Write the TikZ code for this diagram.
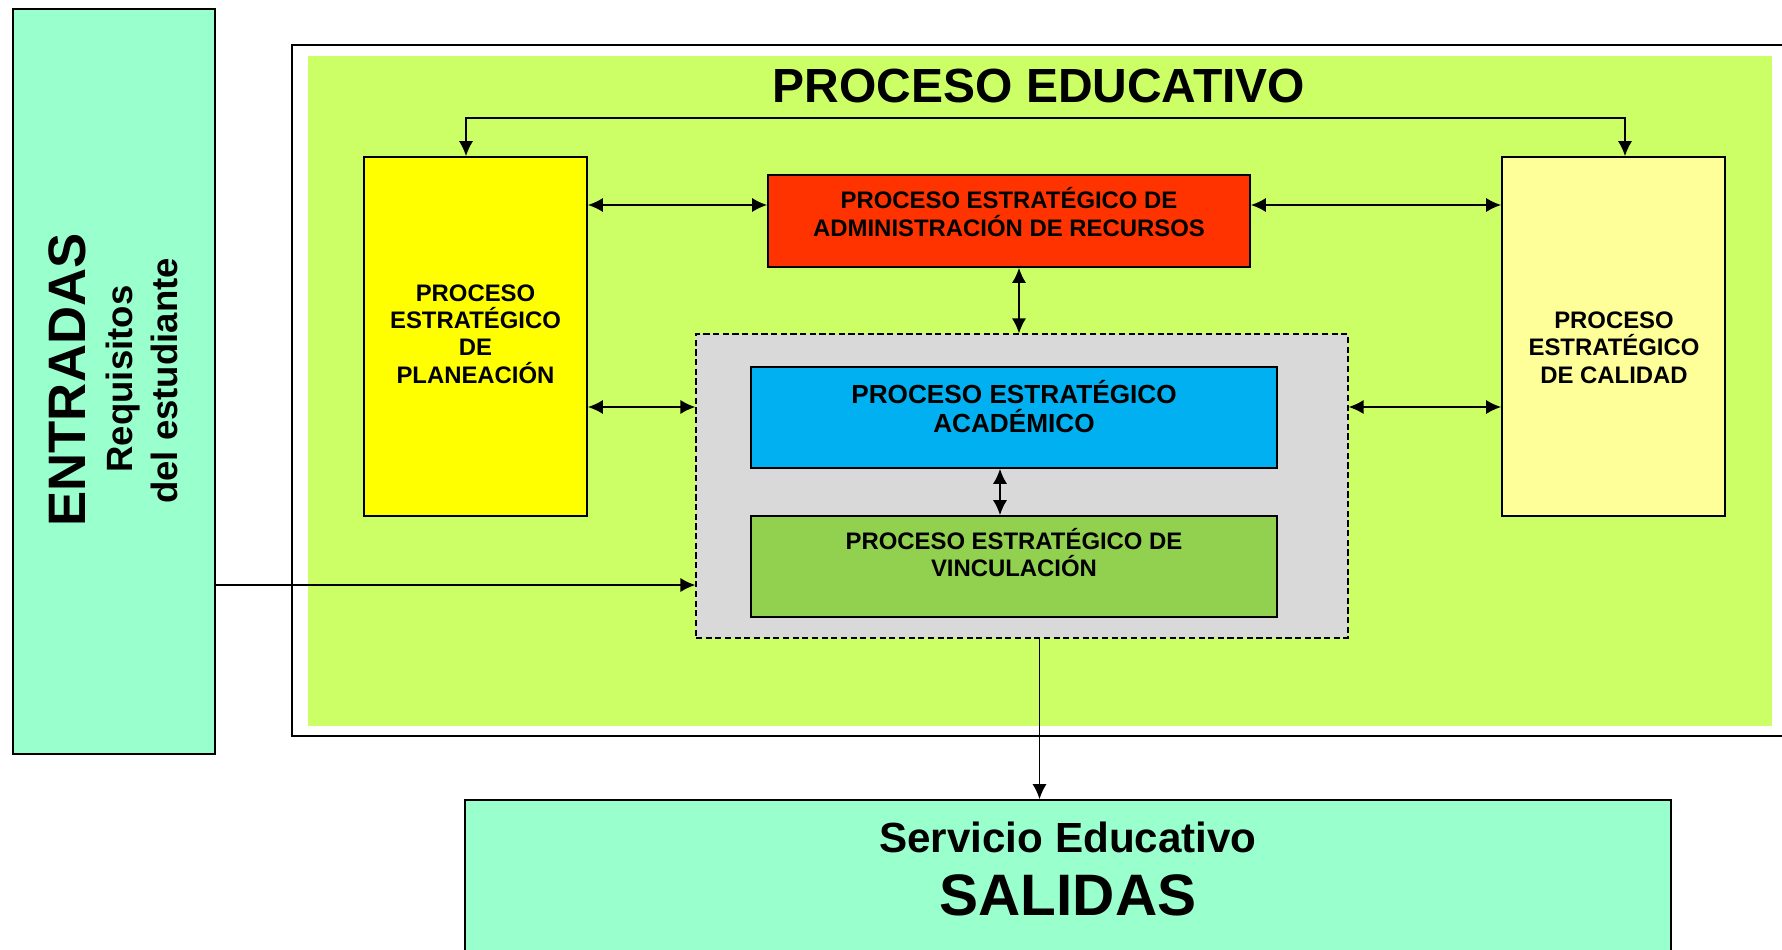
\documentclass[tikz,border=0pt]{standalone}
\usepackage{fontspec}
\setmainfont{Liberation Sans}
\usetikzlibrary{arrows.meta,fit}
\definecolor{aguamarina}{HTML}{99FFCC}
\definecolor{limon}{HTML}{CCFF66}
\definecolor{amarillo}{HTML}{FFFF00}
\definecolor{rojo}{HTML}{FF3300}
\definecolor{crema}{HTML}{FFFF99}
\definecolor{gris}{HTML}{D9D9D9}
\definecolor{azul}{HTML}{00B0F0}
\definecolor{verde}{HTML}{92D050}
\tikzset{
    box/.style={draw, inner sep=0pt, line width=1pt},
    marco/.style={draw, line width=1pt},
    nucleo/.style={draw, dash pattern=on 3.5pt off 2pt, inner sep=0pt, line width=0.7pt, fill=gris},
    txt/.style={align=center, anchor=base, font=\bfseries\fontsize{13.6}{15.6}\selectfont},
    dedge/.style={<->, > = {Latex[length=8.5pt,width=8pt]}, line width=0.9pt},
    edge/.style={->, > = {Latex[length=8.5pt,width=8pt]}, line width=0.9pt},
}
\begin{document}
\begin{tikzpicture}[x=0.02cm, y=-0.02cm]
    \useasboundingbox (0,0) rectangle (1782,950);
    \clip (0,0) rectangle (1782,950);
    % entradas
    \node[box, fill=aguamarina, fit={(13,9) (215,754)}] (entradas) {};
    \node[rotate=90, anchor=base, font=\bfseries\fontsize{30}{30}\selectfont] (ent-t) at (85,380) {ENTRADAS};
    \node[rotate=90, anchor=base, font=\bfseries\fontsize{20.8}{22}\selectfont] (req-t) at (132,379) {Requisitos};
    \node[rotate=90, anchor=base, font=\bfseries\fontsize{20.8}{22}\selectfont] (est-t) at (177,381) {del estudiante};
    % proceso educativo
    \draw[marco] (292,45) rectangle (1820,736);
    \fill[limon] (308,56) rectangle (1772,726);
    \node[anchor=base, font=\bfseries\fontsize{27.3}{30}\selectfont] (titulo) at (1039,102) {PROCESO EDUCATIVO};
    \node[box, fill=amarillo, fit={(364,157) (587,516)}] (plan) {};
    \node[txt] (plan-t) at (475.5,383.3) {PROCESO\\ESTRATÉGICO\\DE\\PLANEACIÓN};
    \node[box, fill=crema, fit={(1502,157) (1725,516)}] (calidad) {};
    \node[txt] (cal-t) at (1614,383.3) {PROCESO\\ESTRATÉGICO\\DE CALIDAD};
    \node[box, fill=rojo, fit={(768,175) (1250,267)}] (adm) {};
    \node[txt, font=\bfseries\fontsize{13.6}{16.2}\selectfont] (adm-t) at (1009,236.7) {PROCESO ESTRATÉGICO DE\\ADMINISTRACIÓN DE RECURSOS};
    \node[nucleo, fit={(696,334) (1348,638)}] (nucleo) {};
    \node[box, fill=azul, fit={(751,367) (1277,468)}] (acad) {};
    \node[txt, font=\bfseries\fontsize{14.9}{16.8}\selectfont] (acad-t) at (1014,432.7) {PROCESO ESTRATÉGICO\\ACADÉMICO};
    \node[box, fill=verde, fit={(751,516) (1277,617)}] (vinc) {};
    \node[txt] (vinc-t) at (1014,576.7) {PROCESO ESTRATÉGICO DE\\VINCULACIÓN};
    % salidas
    \node[box, fill=aguamarina, fit={(465,800) (1671,1000)}] (salidas) {};
    \node[anchor=base, font=\bfseries\fontsize{24}{26}\selectfont] (serv-t) at (1068,852) {Servicio Educativo};
    \node[anchor=base, font=\bfseries\fontsize{33.3}{36}\selectfont] (sal-t) at (1068,915) {SALIDAS};
    % conexiones
    \coordinate (fila1) at (0,205);
    \coordinate (fila2) at (0,407);
    \coordinate (fila3) at (0,585);
    \coordinate (fb-l) at (466,118);
    \coordinate (fb-r) at (1625,118);
    \coordinate (col1) at (1019,0);
    \coordinate (col2) at (1000,0);
    \coordinate (col3) at (1039.5,0);
    \draw[dedge] (plan.north -| fb-l) -- (fb-l) -- (fb-r) -- (calidad.north -| fb-r);
    \draw[dedge] (plan.east |- fila1) -- (adm.west |- fila1);
    \draw[dedge] (adm.east |- fila1) -- (calidad.west |- fila1);
    \draw[dedge] (plan.east |- fila2) -- (nucleo.west |- fila2);
    \draw[dedge] (nucleo.east |- fila2) -- (calidad.west |- fila2);
    \draw[dedge] (adm.south -| col1) -- (nucleo.north -| col1);
    \draw[dedge] (acad.south -| col2) -- (vinc.north -| col2);
    \draw[edge] (entradas.east |- fila3) -- (nucleo.west |- fila3);
    \draw[edge] (nucleo.south -| col3) -- (salidas.north -| col3);
\end{tikzpicture}
\end{document}
